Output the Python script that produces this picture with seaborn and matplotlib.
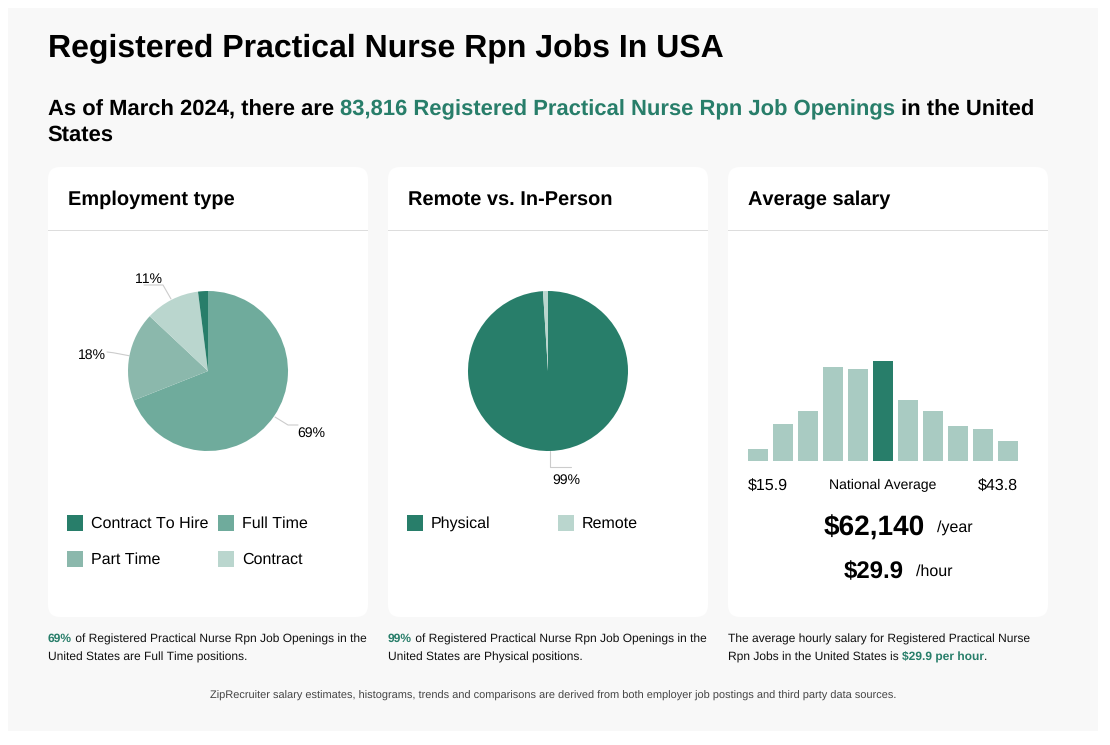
import matplotlib
matplotlib.use('Agg')
import matplotlib.pyplot as plt
import pandas as pd
import seaborn as sns
from matplotlib.patches import FancyBboxPatch, Rectangle

# dados
tipos = ['Full Time', 'Part Time', 'Contract', 'Contract To Hire']
tipos_pct = [69, 18, 11, 2]
modos = ['Physical', 'Remote']
modos_pct = [99, 1]
faixas = ['b0', 'b1', 'b2', 'b3', 'b4', 'b5', 'b6', 'b7', 'b8', 'b9', 'b10']
faixas_val = [12, 37, 50, 94, 92, 100, 61, 50, 35, 32, 20]
faixa_media = 'b5'

VERDE = '#287e6a'
CORES_TIPO = {'Full Time': '#6fab9c', 'Part Time': '#8bb8ac', 'Contract': '#bad6ce', 'Contract To Hire': VERDE}
CORES_MODO = {'Physical': VERDE, 'Remote': '#bad6ce'}
CLARO = '#a9cbc2'

sns.set_theme(style='white')
plt.rcParams['font.family'] = ['Liberation Sans', 'DejaVu Sans']
plt.rcParams['text.hinting'] = 'no_hinting'
plt.rcParams['text.hinting_factor'] = 1
plt.rcParams['text.kerning_factor'] = 6

W, H = 1110, 745
fig = plt.figure(figsize=(W / 100, H / 100), dpi=100, facecolor='white')

# fundo em coordenadas de pixel
bg = fig.add_axes([0, 0, 1, 1], zorder=0)
bg.set_xlim(0, W)
bg.set_ylim(H, 0)
bg.axis('off')
bg.add_patch(Rectangle((8, 8), 1090, 723, fc='#f8f8f8', ec='none'))


def px(s):
    return s * 0.72


def texto(x, y, s, size, **kw):
    # y e o centro da linha, convertido para a linha de base
    kw.setdefault('color', 'black')
    return bg.text(x, y + 0.36 * size, s, fontsize=px(size), va='baseline', **kw)


def trechos(x, y, partes, size, **kw):
    # texto com partes em destaque, uma depois da outra
    r = fig.canvas.get_renderer()
    for s, destaque, cor in partes:
        t = texto(x, y, s, size, color=cor, fontweight='bold' if destaque else 'normal')
        x = bg.transData.inverted().transform(t.get_window_extent(r))[1][0]


texto(48, 45, 'Registered Practical Nurse Rpn Jobs In USA', 32, fontweight='bold')
trechos(48, 107.5, [('As of March 2024, there are ', True, 'black'),
                    ('83,816 Registered Practical Nurse Rpn Job Openings', True, VERDE),
                    (' in the United', True, 'black')], 22)
texto(47.5, 133, 'States', 22, fontweight='bold')

# cartoes
for x0, titulo in [(48, 'Employment type'), (388, 'Remote vs. In-Person'), (728, 'Average salary')]:
    bg.add_patch(FancyBboxPatch((x0 + 12, 179), 296, 426, boxstyle='round,pad=12,rounding_size=12',
                                fc='white', ec='none'))
    bg.add_patch(Rectangle((x0, 230), 320, 1, fc='#dddddd', ec='none'))
    texto(x0 + 20, 198, titulo, 20, fontweight='bold')


def pizza(x0, valores, cores):
    ax = fig.add_axes([x0 / W, (H - 451) / H, 160 / W, 160 / H], zorder=1)
    ax.pie(valores, colors=cores, startangle=90, counterclock=False, radius=1,
           wedgeprops={'linewidth': 0})
    ax.set_xlim(-1, 1)
    ax.set_ylim(-1, 1)
    ax.patch.set_alpha(0)


pizza(128, tipos_pct, [CORES_TIPO[t] for t in tipos])
pizza(468, modos_pct, [CORES_MODO[m] for m in modos])

# linhas guia e rotulos
for xs, ys in [([275, 288, 298], [417, 425, 425]),
               ([129, 113, 107], [355.7, 352.7, 352]),
               ([171, 163, 144], [299, 285, 285]),
               ([550.3, 550.3, 570.7], [451, 466.7, 466.7])]:
    bg.plot(xs, ys, color='#cccccc', lw=0.8, zorder=2)
texto(297.5, 432, '69%', 14.2)
texto(78, 354, '18%', 14.2)
texto(135, 278, '11%', 14.2)
texto(552, 479, '99%', 14.2)

# legendas
for x0, y0, nome in [(67, 523, 'Contract To Hire'), (218, 523, 'Full Time'),
                     (67, 559, 'Part Time'), (218, 559, 'Contract')]:
    bg.add_patch(Rectangle((x0, y0 - 8), 16, 16, fc=CORES_TIPO[nome], ec='none'))
    texto(x0 + 24, y0 - 1, nome, 15.7)
for x0, y0, nome in [(407, 523, 'Physical'), (558, 523, 'Remote')]:
    bg.add_patch(Rectangle((x0, y0 - 8), 16, 16, fc=CORES_MODO[nome], ec='none'))
    texto(x0 + 24, y0 - 1, nome, 15.7)

# histograma
hist = pd.DataFrame({'faixa': faixas, 'valor': faixas_val})
hist['cor'] = [VERDE if f == faixa_media else CLARO for f in faixas]
ax = fig.add_axes([748 / W, (H - 461) / H, 270 / W, 100 / H], zorder=1)
sns.barplot(data=hist, x='faixa', y='valor', hue='faixa', palette=dict(zip(hist['faixa'], hist['cor'])),
            width=0.8, legend=False, saturation=1, ax=ax)
ax.set_xlim(-0.4, 10.4)
ax.set_ylim(0, 100)
ax.axis('off')
for b in ax.patches:
    b.set_linewidth(0)

texto(748, 484, '$15.9', 16.3)
texto(883, 484, 'National Average', 13.9, ha='center')
texto(1018, 484, '$43.8', 16.3, ha='right')
texto(824, 526, '$62,140', 28, fontweight='bold')
texto(937, 526, '/year', 16)
texto(844, 570, '$29.9', 24, fontweight='bold')
texto(916, 570, '/hour', 16)

# notas
CT = '#111111'
trechos(48, 638, [('69%', True, VERDE), (' of Registered Practical Nurse Rpn Job Openings in the', False, CT)], 12)
texto(48, 656, 'United States are Full Time positions.', 12, color=CT)
trechos(388, 638, [('99%', True, VERDE), (' of Registered Practical Nurse Rpn Job Openings in the', False, CT)], 12)
texto(388, 656, 'United States are Physical positions.', 12, color=CT)
texto(728, 638, 'The average hourly salary for Registered Practical Nurse', 12, color=CT)
trechos(728, 656, [('Rpn Jobs in the United States is ', False, CT), ('$29.9 per hour', True, VERDE), ('.', False, CT)], 12)
texto(553, 694.5, 'ZipRecruiter salary estimates, histograms, trends and comparisons are derived from both employer job postings and third party data sources.',
      11, color='#444444', ha='center')

fig.savefig('out.png', dpi=100, facecolor='white')
